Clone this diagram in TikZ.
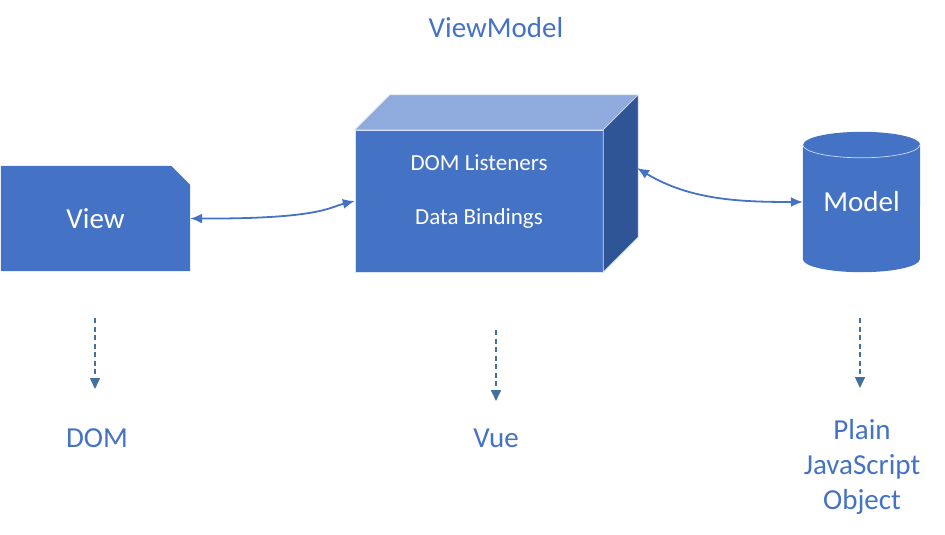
\documentclass[tikz,border=0pt]{standalone}
\usepackage{fontspec}
\setmainfont{Carlito}
\usetikzlibrary{arrows.meta,backgrounds}
\definecolor{mblue}{HTML}{4472C4}
\definecolor{mtop}{HTML}{8FAADC}
\definecolor{mside}{HTML}{2F5597}
\definecolor{mdash}{HTML}{41719C}
\tikzset{
  lbl/.style={text=mblue, font=\fontsize{29}{35}\selectfont, align=center, inner sep=0pt},
  inner/.style={text=white, font=\fontsize{23}{28}\selectfont, inner sep=0pt},
  big/.style={text=white, font=\fontsize{29}{35}\selectfont, inner sep=0pt},
  link/.style={draw=mblue, line width=1.8pt, {Latex[length=12pt,width=10pt]}-{Latex[length=12pt,width=10pt]}},
  dasharrow/.style={draw=mdash, line width=1.6pt, dash pattern=on 5pt off 3.5pt, -{Triangle[length=11pt,width=10pt]}},
}
\begin{document}
\begin{tikzpicture}[x=1pt,y=-1pt]
\useasboundingbox (0,0) rectangle (945,535);
% View
\node[big, minimum width=189pt, minimum height=105pt] (view) at (95.5,218.5) {View};
% ViewModel cube front
\node[minimum width=248pt, minimum height=142pt, inner sep=0pt] (vm) at (479,201) {};
\node[inner] (listen) at (479,163) {DOM Listeners};
\node[inner] (bind) at (479,218) {Data Bindings};
\coordinate (vmside) at (637,168);
% Model cylinder
\node[big, minimum width=117pt, minimum height=140pt] (model) at (861.5,202) {Model};
\begin{scope}[on background layer]
  \fill[mblue] (view.north west) -- ([xshift=-19pt]view.north east) -- ([yshift=-19pt]view.north east) -- (view.south east) -- (view.south west) -- cycle;
  \fill[mblue, draw=white!80!mblue, line width=0.6pt] (vm.north west) rectangle (vm.south east);
  \fill[mtop, draw=white!80!mblue, line width=0.6pt] (vm.north west) -- ([xshift=35pt,yshift=35pt]vm.north west) -- ([xshift=35pt,yshift=35pt]vm.north east) -- (vm.north east) -- cycle;
  \fill[mside, draw=white!80!mblue, line width=0.6pt] (vm.north east) -- ([xshift=35pt,yshift=35pt]vm.north east) -- ([xshift=35pt,yshift=35pt]vm.south east) -- (vm.south east) -- cycle;
  \fill[mblue] ([yshift=-13pt]model.north west) -- ([yshift=13pt]model.south west)
     arc[start angle=180, end angle=360, x radius=58.5pt, y radius=13pt]
     -- ([yshift=-13pt]model.north east)
     arc[start angle=0, end angle=180, x radius=58.5pt, y radius=13pt] -- cycle;
  \draw[white!75!mblue, line width=0.7pt] ([yshift=-13pt]model.north west) arc[start angle=180, end angle=360, x radius=58.5pt, y radius=13pt];
\end{scope}
% connectors
\draw[link] (view.east) .. controls (320,219) and (330,207) .. (vm.west);
\draw[link] (vmside) .. controls (690,200) and (740,202) .. (model.west);
% titles
\node[lbl] (vmtitle) at (496,28) {ViewModel};
\node[lbl] (dom) at (97,438) {DOM};
\node[lbl] (vue) at (496,438) {Vue};
\node[lbl] (pjo) at (862,467) {Plain\\JavaScript\\Object};
% dashed arrows
\coordinate (d1) at (95,318);
\coordinate (d1e) at (95,389);
\coordinate (d2) at (496,330);
\coordinate (d2e) at (496,401);
\coordinate (d3) at (860,318);
\coordinate (d3e) at (860,388);
\draw[dasharrow] (d1) -- (d1e);
\draw[dasharrow] (d2) -- (d2e);
\draw[dasharrow] (d3) -- (d3e);
\end{tikzpicture}
\end{document}
